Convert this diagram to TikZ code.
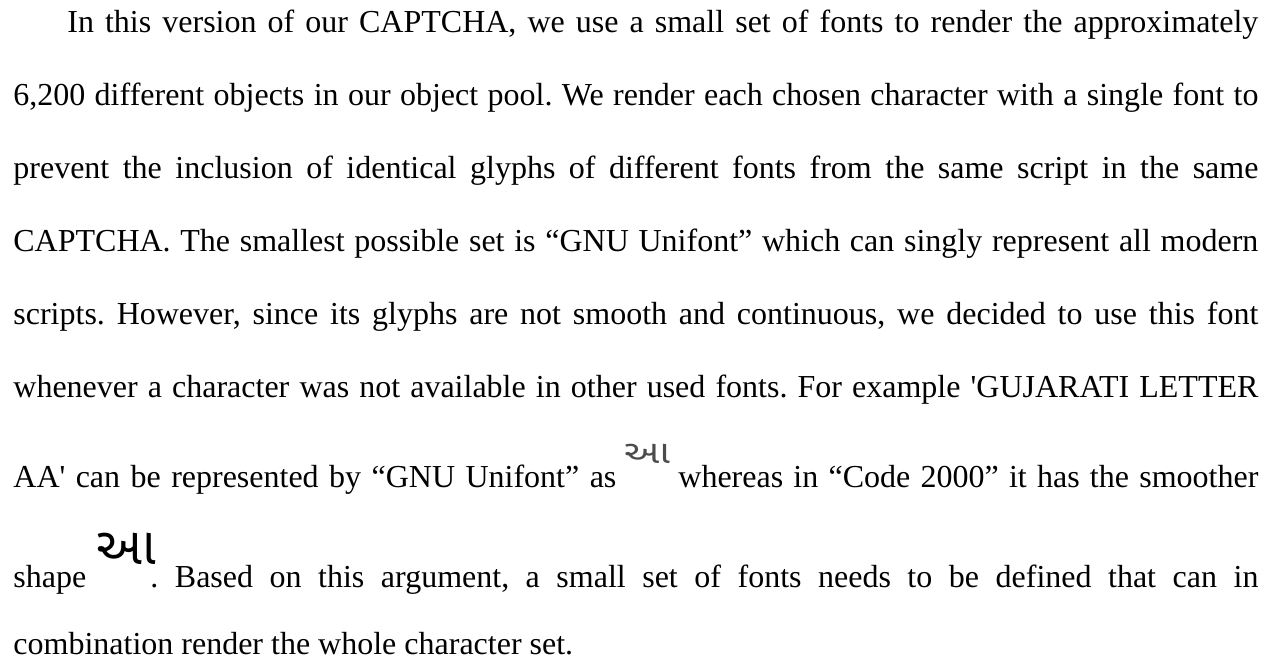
\documentclass[tikz,border=0pt]{standalone}
\usepackage{fontspec}
\setmainfont{Liberation Serif}[Ligatures=TeXOff]
\newfontfamily\gujfont[Script=Gujarati]{Noto Sans Gujarati UI}
\frenchspacing
\begin{document}
\begin{tikzpicture}[x=0.5pt,y=-0.5pt,
  txt/.style={anchor=base west,inner sep=0pt,font=\fontsize{16}{18}\selectfont\frenchspacing},
  guj/.style={anchor=base,inner sep=0pt}]
\useasboundingbox (0,0) rectangle (1273,665);
\node[txt] (l1) at (67,32) {\makebox[595.5pt][s]{In this version of our CAPTCHA, we use a small set of fonts to render the approximately}};
\node[txt] (l2) at (13,105) {\makebox[622.5pt][s]{6,200 different objects in our object pool. We render each chosen character with a single font to}};
\node[txt] (l3) at (13,178) {\makebox[622.5pt][s]{prevent the inclusion of identical glyphs of different fonts from the same script in the same}};
\node[txt] (l4) at (13,251) {\makebox[622.5pt][s]{CAPTCHA. The smallest possible set is “GNU Unifont” which can singly represent all modern}};
\node[txt] (l5) at (13,324) {\makebox[622.5pt][s]{scripts. However, since its glyphs are not smooth and continuous, we decided to use this font}};
\node[txt] (l6) at (13,397) {\makebox[622.5pt][s]{whenever a character was not available in other used fonts. For example 'GUJARATI LETTER}};
\node[txt] (l7a) at (13,487) {\makebox[301.5pt][s]{AA' can be represented by “GNU Unifont” as}};
\node[txt] (l7b) at (678,487) {\makebox[290pt][s]{whereas in “Code 2000” it has the smoother}};
\node[txt] (l8a) at (13,587) {shape};
\node[txt] (l8b) at (150,587) {\makebox[554pt][s]{. Based on this argument, a small set of fonts needs to be defined that can in}};
\node[txt] (l9) at (13,654) {combination render the whole character set.};
\node[guj,text=black!70,xscale=1.25] (g1) at (647,463) {\gujfont\fontsize{16}{16}\selectfont આ};
\node[guj] (g2) at (126,564) {\gujfont\fontsize{26}{26}\selectfont આ};
\end{tikzpicture}
\end{document}
